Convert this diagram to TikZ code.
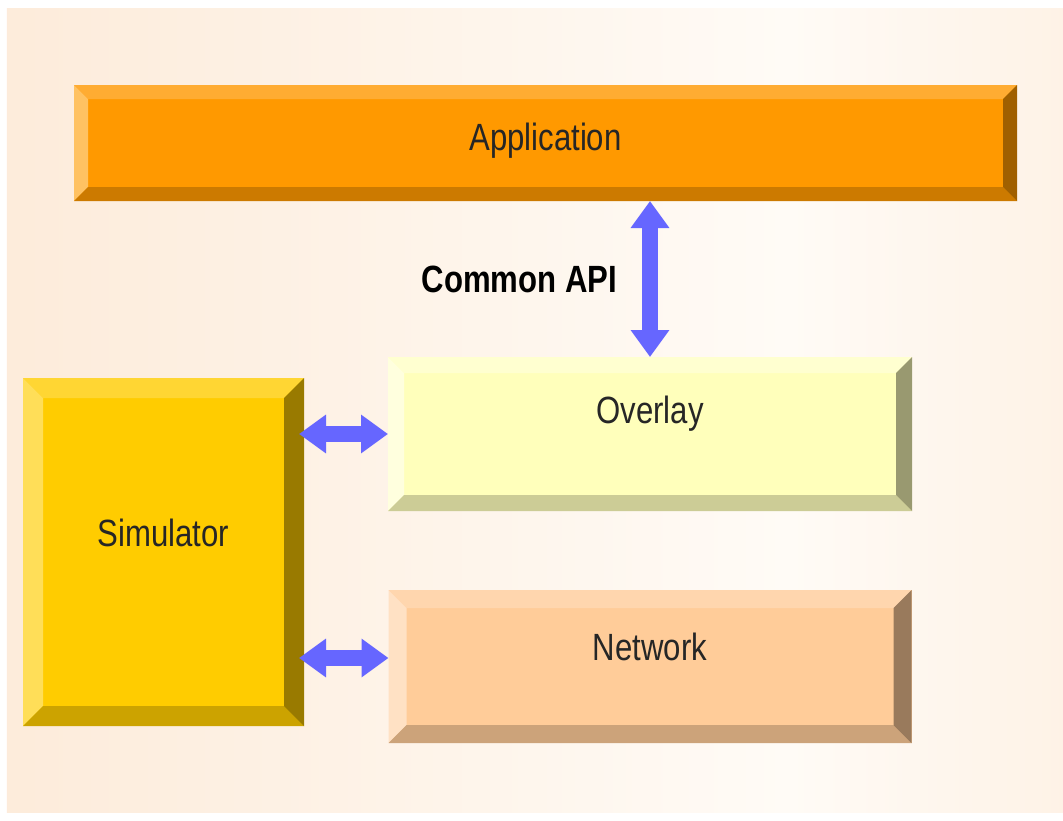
\documentclass[tikz,border=0pt]{standalone}
\usepackage{fontspec}
\usepackage{xcolor}
\usepackage{tikz}
\usetikzlibrary{
  arrows.meta,
  positioning
}
\newfontfamily\slabfont[FakeStretch=0.82]{Liberation Sans}
\definecolor{peach}{RGB}{251,225,200}
\definecolor{paper}{RGB}{255,251,246}
\definecolor{arrowblue}{RGB}{102,102,255}
\definecolor{appface}{RGB}{255,153,0}
\definecolor{apptop}{RGB}{255,172,50}
\definecolor{appleft}{RGB}{255,194,98}
\definecolor{appbottom}{RGB}{204,122,0}
\definecolor{appright}{RGB}{160,96,0}
\definecolor{ovlface}{RGB}{255,255,187}
\definecolor{ovltop}{RGB}{255,255,208}
\definecolor{ovlleft}{RGB}{255,255,222}
\definecolor{ovlbottom}{RGB}{204,204,150}
\definecolor{ovlright}{RGB}{153,153,112}
\definecolor{simface}{RGB}{255,204,0}
\definecolor{simtop}{RGB}{255,214,51}
\definecolor{simleft}{RGB}{255,222,88}
\definecolor{simbottom}{RGB}{204,163,0}
\definecolor{simright}{RGB}{153,122,0}
\definecolor{netface}{RGB}{255,204,153}
\definecolor{nettop}{RGB}{255,214,174}
\definecolor{netleft}{RGB}{255,225,196}
\definecolor{netbottom}{RGB}{204,163,122}
\definecolor{netright}{RGB}{153,122,92}
\pgfdeclarehorizontalshading{backdrop}{100bp}{
  color(0bp)=(peach); color(62bp)=(paper); color(100bp)=(peach)}
% bevel faces: size, top, left, bottom, right
\newcommand{\bevelfaces}[5]{%
  \coordinate (bnw) at (path picture bounding box.north west);
  \coordinate (bse) at (path picture bounding box.south east);
  \coordinate (bne) at (bnw -| bse);
  \coordinate (bsw) at (bnw |- bse);
  \fill[#2] (bnw) -- (bne) -- ([shift={(-#1,-#1)}]bne) -- ([shift={(#1,-#1)}]bnw) -- cycle;
  \fill[#3] (bnw) -- ([shift={(#1,-#1)}]bnw) -- ([shift={(#1,#1)}]bsw) -- (bsw) -- cycle;
  \fill[#4] (bsw) -- ([shift={(#1,#1)}]bsw) -- ([shift={(-#1,#1)}]bse) -- (bse) -- cycle;
  \fill[#5] (bse) -- ([shift={(-#1,#1)}]bse) -- ([shift={(-#1,-#1)}]bne) -- (bne) -- cycle;
}
\tikzset{
  slab/.style={
    rectangle,
    outer sep=0pt,
    inner sep=0pt,
    text=black!85,
    font=\slabfont\fontsize{21.6}{26}\selectfont,
    text height=5.4mm
  },
  appslab/.style={slab,fill=appface,minimum width=188.6mm,minimum height=23.2mm,text depth=2.4mm,
    path picture={\bevelfaces{2.8mm}{apptop}{appleft}{appbottom}{appright}}},
  ovlslab/.style={slab,fill=ovlface,minimum width=104.8mm,minimum height=30.8mm,text depth=9.6mm,
    path picture={\bevelfaces{3.2mm}{ovltop}{ovlleft}{ovlbottom}{ovlright}}},
  netslab/.style={slab,fill=netface,minimum width=104.6mm,minimum height=30.6mm,text depth=8mm,
    path picture={\bevelfaces{3.6mm}{nettop}{netleft}{netbottom}{netright}}},
  simslab/.style={slab,fill=simface,minimum width=56.2mm,minimum height=69.6mm,text depth=7.6mm,
    path picture={\bevelfaces{4mm}{simtop}{simleft}{simbottom}{simright}}},
  linkarrow/.style={
    {Triangle[width=7.4mm,length=5.4mm]}-{Triangle[width=7.4mm,length=5.4mm]},
    line width=3.2mm,draw=arrowblue
  },
}

\begin{document}
\begin{tikzpicture}
  \useasboundingbox (0,0) rectangle (21.26,-16.42);
  \shade[shading=backdrop] (0.14,-0.16) rectangle (21.26,-16.24);

  \node[appslab] (app) at (10.91,-2.86) {Application};
  \node[ovlslab,below=3.12cm of app,xshift=2.09cm] (overlay) {Overlay};
  \node[netslab,below=1.58cm of overlay] (network) {Network};
  \node[simslab,left=1.68cm of overlay.north west,anchor=north east,yshift=-4.2mm] (sim) {Simulator};
  \coordinate (netlink) at ([yshift=1.7mm]network.west);

  \draw[linkarrow] (overlay.north |- app.south) -- node[left=6.6mm,inner sep=0pt,outer sep=0pt,text=black,
    font=\slabfont\bfseries\fontsize{21.6}{26}\selectfont] {Common API} (overlay.north);
  \draw[linkarrow] ([xshift=-1mm]sim.east |- overlay.west) -- (overlay.west);
  \draw[linkarrow] ([xshift=-1mm]sim.east |- netlink) -- (netlink);
\end{tikzpicture}
\end{document}
